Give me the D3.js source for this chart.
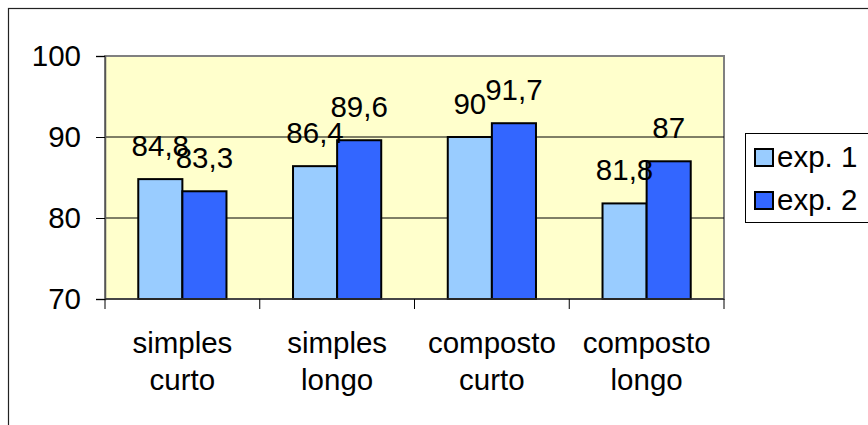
<!DOCTYPE html>
<html>
<head>
<meta charset="utf-8">
<script src="https://cdn.jsdelivr.net/npm/d3@7"></script>
<style>
  body { margin: 0; background: #fff; }
  svg { display: block; font-family: "Liberation Sans", Arial, sans-serif; }
</style>
</head>
<body>
<div id="chart"></div>
<script>
// data
const categories = ["simples curto", "simples longo", "composto curto", "composto longo"];
const seriesNames = ["exp. 1", "exp. 2"];
const exp1 = [84.8, 86.4, 90, 81.8];
const exp2 = [83.3, 89.6, 91.7, 87];
const yTicks = [70, 80, 90, 100];

const colors = ["#99CCFF", "#3366FF"];
const W = 868, H = 425;
const plot = {l: 105, t: 56, r: 724, b: 299};
const fontSize = 29.5;

const svg = d3.select("#chart").append("svg")
  .attr("width", W)
  .attr("height", H);

// outer chart border (right/bottom edges fall outside the window)
svg.append("rect")
  .attr("x", 8.5).attr("y", 8.5)
  .attr("width", W).attr("height", H)
  .attr("fill", "#fff")
  .attr("stroke", "#222")
  .attr("stroke-width", 1.2);

const scaleX = d3.scaleBand().domain(categories).range([plot.l, plot.r]);
const bw = scaleX.bandwidth();
const gap = bw * 0.215;
const scaleS = d3.scaleBand().domain(seriesNames).range([gap, bw - gap]);
const scaleY = d3.scaleLinear().domain([70, 100]).range([plot.b, plot.t]);

// plot area
svg.append("rect")
  .attr("x", plot.l).attr("y", plot.t)
  .attr("width", plot.r - plot.l).attr("height", plot.b - plot.t)
  .attr("fill", "#FFFFCC")
  .attr("stroke", "#808080")
  .attr("stroke-width", 2);

// gridlines
svg.append("g")
  .selectAll("line")
  .data(yTicks.filter(d => d > 70 && d < 100))
  .join("line")
  .attr("x1", plot.l).attr("x2", plot.r)
  .attr("y1", d => scaleY(d)).attr("y2", d => scaleY(d))
  .attr("stroke", "#000")
  .attr("stroke-width", 1);

// bars
const rows = categories.map((c, i) => ({cat: c, values: [exp1[i], exp2[i]]}));
const groups = svg.append("g").selectAll("g")
  .data(rows)
  .join("g")
  .attr("transform", d => `translate(${scaleX(d.cat)},0)`);

groups.selectAll("rect")
  .data(d => d.values.map((v, j) => ({name: seriesNames[j], value: v, j})))
  .join("rect")
  .attr("x", d => scaleS(d.name))
  .attr("y", d => scaleY(d.value))
  .attr("width", scaleS.bandwidth())
  .attr("height", d => scaleY(70) - scaleY(d.value))
  .attr("fill", d => colors[d.j])
  .attr("stroke", "#000")
  .attr("stroke-width", 2);

// value labels
const fmt = v => String(v).replace(".", ",");
groups.selectAll("text")
  .data(d => d.values.map((v, j) => ({name: seriesNames[j], value: v})))
  .join("text")
  .attr("x", d => scaleS(d.name) + scaleS.bandwidth() / 2)
  .attr("y", d => scaleY(d.value) - 23)
  .attr("text-anchor", "middle")
  .attr("font-size", fontSize)
  .text(d => fmt(d.value));

// y axis
const axisY = d3.axisLeft(scaleY).tickValues(yTicks).tickSize(9).tickPadding(15);
const gy = svg.append("g")
  .attr("transform", `translate(${plot.l},0)`)
  .call(axisY);
gy.select(".domain").attr("stroke", "#555").attr("stroke-width", 1.5);
gy.selectAll(".tick line").attr("stroke", "#000");
gy.selectAll(".tick text")
  .attr("font-size", fontSize)
  .attr("font-family", "Liberation Sans, Arial, sans-serif")
  .attr("fill", "#000");

// x axis: ticks at category boundaries
const bounds = categories.map(c => scaleX(c)).concat([plot.r]);
const gx = svg.append("g");
gx.append("line")
  .attr("x1", plot.l).attr("x2", plot.r)
  .attr("y1", plot.b).attr("y2", plot.b)
  .attr("stroke", "#333").attr("stroke-width", 1.5);
gx.selectAll("line.tick")
  .data(bounds)
  .join("line")
  .attr("class", "tick")
  .attr("x1", d => d).attr("x2", d => d)
  .attr("y1", plot.b).attr("y2", plot.b + 10)
  .attr("stroke", "#000");

const catLabels = gx.selectAll("text")
  .data(categories)
  .join("text")
  .attr("text-anchor", "middle")
  .attr("font-size", fontSize)
  .attr("x", d => scaleX(d) + bw / 2)
  .attr("y", 353);
catLabels.selectAll("tspan")
  .data(d => d.split(" "))
  .join("tspan")
  .attr("x", function() { return this.parentNode.getAttribute("x"); })
  .attr("dy", (d, i) => i === 0 ? 0 : 37)
  .text(d => d);

// legend
const legend = svg.append("g");
legend.append("rect")
  .attr("x", 745.5).attr("y", 133.5)
  .attr("width", 140).attr("height", 89)
  .attr("fill", "#fff")
  .attr("stroke", "#000")
  .attr("stroke-width", 1);
const items = legend.selectAll("g")
  .data(seriesNames)
  .join("g")
  .attr("transform", (d, i) => `translate(0, ${i * 43})`);
items.append("rect")
  .attr("x", 755).attr("y", 149)
  .attr("width", 18).attr("height", 17)
  .attr("fill", (d, i) => colors[i])
  .attr("stroke", "#000")
  .attr("stroke-width", 2);
items.append("text")
  .attr("x", 777).attr("y", 167)
  .attr("font-size", fontSize)
  .text(d => d);
</script>
</body>
</html>
